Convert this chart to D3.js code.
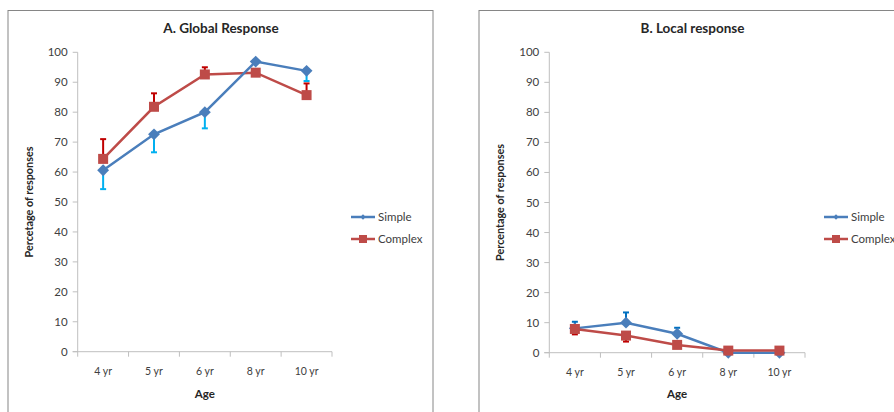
<!DOCTYPE html>
<html><head><meta charset="utf-8">
<script src="https://cdn.jsdelivr.net/npm/d3@7"></script>
<style>body{margin:0;background:#fff;}svg{display:block;font-family:Lato,"Open Sans",sans-serif;}</style>
</head><body><svg id="c" width="894" height="412"></svg>
<script>
const categories = ["4 yr","5 yr","6 yr","8 yr","10 yr"];
const yTicks = [0,10,20,30,40,50,60,70,80,90,100];
const seriesNames = ["Simple","Complex"];
// Panel A: Global response
const globalSimple = [60.6, 72.6, 80.0, 96.9, 93.8];
const globalSimpleErr = [6.3, 6.0, 5.4, 0.5, 3.4];      // drawn downward
const globalComplex = [64.4, 81.8, 92.6, 93.2, 85.7];
const globalComplexErr = [6.6, 4.5, 2.4, 0.5, 3.9];     // drawn upward
// Panel B: Local response
const localSimple = [8.1, 10.0, 6.3, 0.0, 0.0];
const localSimpleErr = [2.2, 3.4, 2.0, 0, 0];           // upward
const localComplex = [7.9, 5.7, 2.6, 0.7, 0.7];
const localComplexErr = [1.8, 2.0, 0.5, 0, 0];          // downward

const svg = d3.select("#c");
const blue = "#4A7EBB", red = "#BE4B48";

function panel(o){
  const g = svg.append("g");
  g.append("rect").attr("x",o.bx+0.5).attr("y",10.5).attr("width",o.bw).attr("height",420)
    .attr("fill","#fff").attr("stroke","#868686").attr("stroke-width",1);
  const x = d3.scaleBand().domain(categories).range([o.x0,o.x1]).paddingInner(0).paddingOuter(0);
  const y = d3.scaleLinear().domain([0,100]).range([o.y0,52.3]);
  const cx = c => x(c)+x.bandwidth()/2;
  // axes
  const ax = "#BFBFBF";
  g.append("line").attr("x1",o.x0).attr("x2",o.x0).attr("y1",y(100)).attr("y2",y(0)).attr("stroke",ax);
  g.append("line").attr("x1",o.x0-5).attr("x2",o.x1).attr("y1",y(0)).attr("y2",y(0)).attr("stroke",ax);
  yTicks.forEach(t=>{
    g.append("line").attr("x1",o.x0-5).attr("x2",o.x0).attr("y1",y(t)).attr("y2",y(t)).attr("stroke",ax);
    g.append("text").attr("x",o.x0-10).attr("y",y(t)).attr("dy","0.35em").attr("text-anchor","end")
      .attr("font-size",11.5).attr("fill","#404040").text(t);
  });
  const bounds = categories.map(c=>x(c)).concat([o.x1]);
  bounds.forEach(b=>{
    g.append("line").attr("x1",b).attr("x2",b).attr("y1",y(0)).attr("y2",y(0)+5).attr("stroke",ax);
  });
  categories.forEach(c=>{
    g.append("text").attr("x",cx(c)).attr("y",o.y0+23).attr("text-anchor","middle")
      .attr("font-size",10.5).attr("fill","#404040").text(c);
  });
  g.append("text").attr("x",(o.x0+o.x1)/2).attr("y",398).attr("text-anchor","middle")
    .attr("font-size",11.5).attr("font-weight","bold").attr("fill","#262626").text("Age");
  g.append("text").attr("transform",`translate(${o.x0-45},${(y(0)+y(100))/2}) rotate(-90)`)
    .attr("text-anchor","middle").attr("font-size",10.8).attr("font-weight","bold").attr("fill","#262626").text(o.ylab);
  g.append("text").attr("x",o.tx).attr("y",33).attr("text-anchor","middle")
    .attr("font-size",13.5).attr("font-weight","bold").attr("fill","#262626").text(o.title);

  const line = d3.line().x((d,i)=>cx(categories[i])).y(d=>y(d));
  // error bars
  function errs(vals, e, dir, col){
    vals.forEach((v,i)=>{
      if(!e[i]) return;
      const xx = cx(categories[i]), y1 = y(v), y2 = y(v+dir*e[i]);
      g.append("line").attr("x1",xx).attr("x2",xx).attr("y1",y1).attr("y2",y2).attr("stroke",col).attr("stroke-width",2);
      g.append("line").attr("x1",xx-3).attr("x2",xx+3).attr("y1",y2).attr("y2",y2).attr("stroke",col).attr("stroke-width",2);
    });
  }
  errs(o.s, o.se, o.sdir, o.scol);
  errs(o.c, o.ce, o.cdir, o.ccol);
  const order = o.simpleOnTop ? ["c","s"] : ["s","c"];
  order.forEach(k=>{
    const vals = o[k], col = k==="s"?blue:red;
    g.append("path").attr("d",line(vals)).attr("fill","none").attr("stroke",col).attr("stroke-width",2.5);
    vals.forEach((v,i)=>{
      if(k==="s"){
        g.append("path").attr("d",d3.symbol(d3.symbolDiamond2,90)())
          .attr("transform",`translate(${cx(categories[i])},${y(v)})`).attr("fill",col);
      } else {
        g.append("rect").attr("x",cx(categories[i])-5).attr("y",y(v)-5).attr("width",10).attr("height",10).attr("fill",col);
      }
    });
  });
  // legend
  seriesNames.forEach((n,i)=>{
    const ly = 217 + i*22, col = i===0?blue:red;
    g.append("line").attr("x1",o.lx).attr("x2",o.lx+24).attr("y1",ly).attr("y2",ly).attr("stroke",col).attr("stroke-width",2.5);
    if(i===0) g.append("path").attr("d",d3.symbol(d3.symbolDiamond2,18)()).attr("transform",`translate(${o.lx+12},${ly})`).attr("fill",col);
    else g.append("rect").attr("x",o.lx+8).attr("y",ly-4).attr("width",8).attr("height",8).attr("fill",col);
    g.append("text").attr("x",o.lx+27).attr("y",ly).attr("dy","0.35em").attr("font-size",11.5).attr("fill","#404040").text(n);
  });
}

panel({bx:7.5,bw:425,x0:77.7,x1:332,y0:351.7,tx:221,title:"A. Global Response",ylab:"Percetage of responses",lx:351,
  s:globalSimple,se:globalSimpleErr,sdir:-1,scol:"#00B0F0",c:globalComplex,ce:globalComplexErr,cdir:1,ccol:"#C00000",simpleOnTop:true});
panel({bx:478.5,bw:440,x0:549.3,x1:805,y0:352.7,tx:692.5,title:"B. Local response",ylab:"Percentage of responses",lx:824,
  s:localSimple,se:localSimpleErr,sdir:1,scol:"#0070C0",c:localComplex,ce:localComplexErr,cdir:-1,ccol:"#C00000",simpleOnTop:false});
</script></body></html>
